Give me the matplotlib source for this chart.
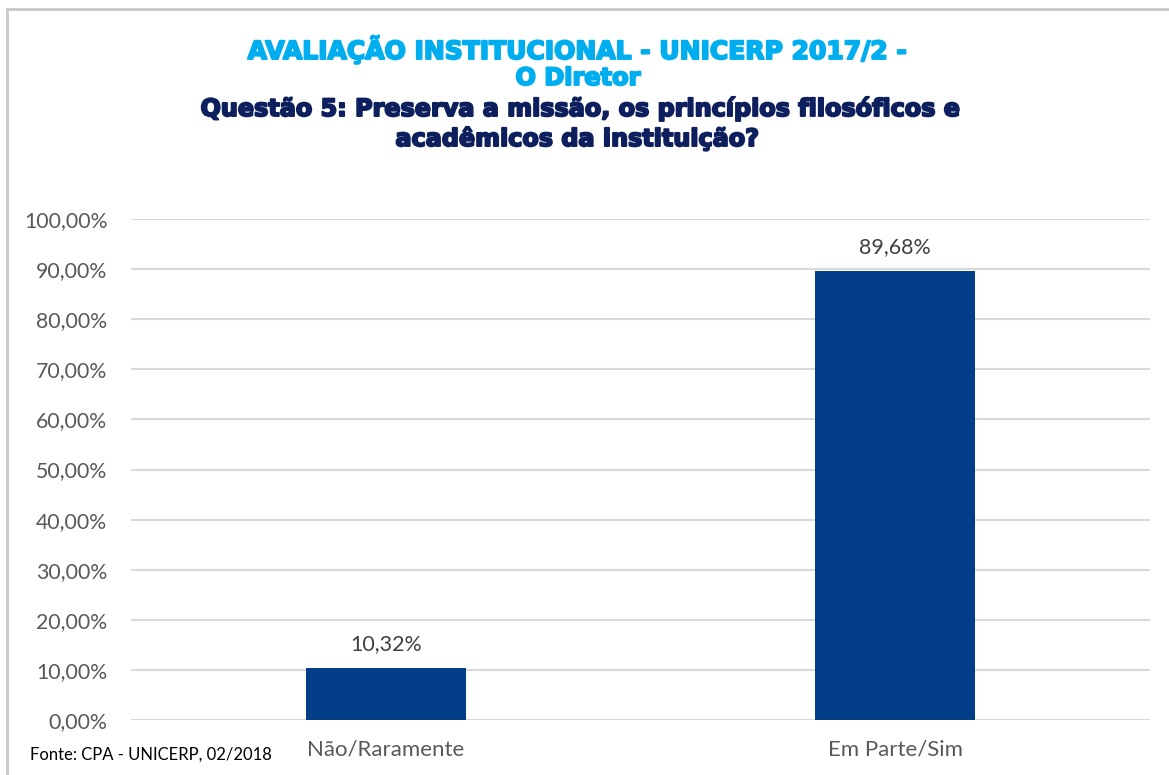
import matplotlib
matplotlib.use("Agg")
import matplotlib.pyplot as plt
from matplotlib.ticker import FuncFormatter
from matplotlib.lines import Line2D
import matplotlib.patheffects as pe

categories = ["Não/Raramente", "Em Parte/Sim"]
values = [0.1032, 0.8968]
value_labels = ["10,32%", "89,68%"]
yticks = [0.0, 0.1, 0.2, 0.3, 0.4, 0.5, 0.6, 0.7, 0.8, 0.9, 1.0]

fig = plt.figure(figsize=(11.69, 7.75), dpi=100)
ax = fig.add_axes([131/1169, 1-720/775, (1150-131)/1169, (720-219)/775])

x = list(range(len(categories)))
bars = ax.bar(x, values, width=0.314, color="#023F88", zorder=3)
ax.set_xlim(-0.5, 1.5)
ax.set_ylim(0, 1.0)
ax.set_yticks(yticks)
ax.yaxis.set_major_formatter(FuncFormatter(lambda v, p: f"{v*100:.2f}%".replace(".", ",")))
ax.set_xticks(x)
ax.set_xticklabels(categories)
ax.grid(axis="y", color="#D9D9D9", linewidth=1.5, zorder=0)
for s in ax.spines.values():
    s.set_visible(False)
ax.tick_params(axis="both", length=0, labelcolor="#595959")
ax.tick_params(axis="y", labelsize=15.3, pad=17)
ax.tick_params(axis="x", labelsize=16, pad=14)
for lab in ax.get_xticklabels() + ax.get_yticklabels():
    lab.set_family("Lato")

for b, lab in zip(bars, value_labels):
    ax.annotate(lab, (b.get_x() + b.get_width()/2, b.get_height()),
                xytext=(0, 10), textcoords="offset points", ha="center", va="bottom",
                fontsize=15.4, color="#404040", family="Lato")

# frame lines (top and left)
fig.add_artist(Line2D([7/1169, 7/1169], [0, 1-9/775], color="#C8C8C8", linewidth=2, transform=fig.transFigure))
fig.add_artist(Line2D([7/1169, 1], [1-9/775, 1-9/775], color="#C8C8C8", linewidth=2, transform=fig.transFigure))

def title_line(cx, y, text, color, size):
    fig.text(cx/1169, 1-y/775, text, ha="center", va="baseline", fontsize=size, fontweight="bold",
             color=color, family="DejaVu Sans",
             path_effects=[pe.withStroke(linewidth=1.4, foreground=color)])

title_line(577, 59, "AVALIAÇÃO INSTITUCIONAL - UNICERP 2017/2 -", "#00AEEF", 18)
title_line(578, 85, "O Diretor", "#00AEEF", 17.3)
title_line(580, 116, "Questão 5: Preserva a missão, os princípios filosóficos e", "#0D1F5C", 17.2)
title_line(577, 146, "acadêmicos da instituição?", "#0D1F5C", 17.2)

fig.text(30/1169, 1-755/775, "Fonte: CPA - UNICERP, 02/2018", ha="left", va="center",
         fontsize=12, color="#000000", family="Lato")

fig.savefig("out.png", dpi=100)
